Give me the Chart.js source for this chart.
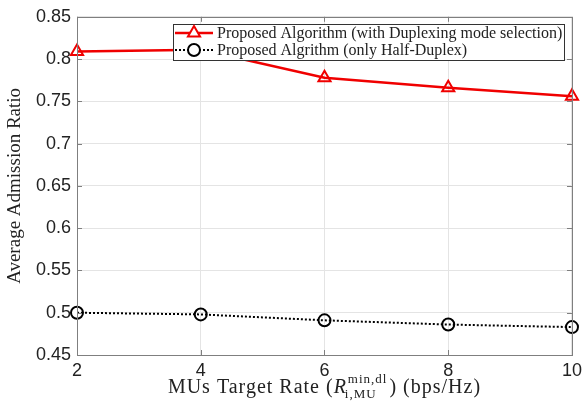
<!DOCTYPE html>
<html>
<head>
<meta charset="utf-8">
<script src="https://cdn.jsdelivr.net/npm/chart.js@4/dist/chart.umd.min.js"></script>
<style>
  html, body { margin: 0; padding: 0; background: #fff; }
  #wrap { width: 587px; height: 401px; }
</style>
</head>
<body>
<div id="wrap"><canvas id="c" width="587" height="401"></canvas></div>
<script>
// Target rate of the mobile users (bps/Hz)
const targetRates = [2, 4, 6, 8, 10];
// Average admission ratio for each scheme
const withDuplexSelection = [0.809, 0.811, 0.778, 0.766, 0.756];
const halfDuplexOnly = [0.500, 0.498, 0.491, 0.486, 0.483];
const seriesLabels = [
  'Proposed Algorithm (with Duplexing mode selection)',
  'Proposed Algrithm (only Half-Duplex)'
];
const yTicks = [0.45, 0.5, 0.55, 0.6, 0.65, 0.7, 0.75, 0.8, 0.85];

const RED = '#f00000';
const AXIS = '#7f7f7f';
const GRID = '#e4e4e4';
const SERIF = '"Liberation Serif", "DejaVu Serif", serif';
const SANS = '"Liberation Sans", Arial, sans-serif';

// Inward tick marks on all four sides of the axes box
const innerTicks = {
  id: 'innerTicks',
  afterDatasetsDraw(chart) {
    const { ctx, chartArea: a, scales: { x, y } } = chart;
    const len = 5;
    ctx.save();
    ctx.strokeStyle = AXIS;
    ctx.lineWidth = 1;
    ctx.beginPath();
    targetRates.forEach(v => {
      const px = Math.round(x.getPixelForValue(v)) + 0.5;
      ctx.moveTo(px, a.bottom); ctx.lineTo(px, a.bottom - len);
      ctx.moveTo(px, a.top); ctx.lineTo(px, a.top + len);
    });
    yTicks.forEach(v => {
      const py = Math.round(y.getPixelForValue(v)) + 0.5;
      ctx.moveTo(a.left, py); ctx.lineTo(a.left + len, py);
      ctx.moveTo(a.right, py); ctx.lineTo(a.right - len, py);
    });
    ctx.stroke();
    ctx.strokeRect(Math.round(a.left) + 0.5, Math.round(a.top) + 0.5,
                   Math.round(a.right - a.left), Math.round(a.bottom - a.top));
    ctx.restore();
  }
};

// Boxed legend placed inside the plot, drawn over the data lines
const boxedLegend = {
  id: 'boxedLegend',
  afterDatasetsDraw(chart) {
    const { ctx } = chart;
    const box = { x: 173.5, y: 24.5, w: 391, h: 36 };
    ctx.save();
    ctx.fillStyle = '#fff';
    ctx.fillRect(box.x, box.y, box.w, box.h);
    ctx.strokeStyle = '#333';
    ctx.lineWidth = 1;
    ctx.strokeRect(box.x, box.y, box.w, box.h);
    const rows = [33, 50];
    chart.data.datasets.forEach((ds, i) => {
      const cy = rows[i];
      ctx.strokeStyle = ds.borderColor;
      ctx.lineWidth = ds.borderWidth;
      ctx.setLineDash(ds.borderDash || []);
      ctx.beginPath();
      ctx.moveTo(175, cy); ctx.lineTo(213, cy);
      ctx.stroke();
      ctx.setLineDash([]);
      ctx.fillStyle = '#fff';
      ctx.strokeStyle = ds.pointBorderColor;
      ctx.lineWidth = ds.pointBorderWidth;
      Chart.helpers.drawPoint(ctx, {
        pointStyle: ds.pointStyle, radius: ds.pointRadius, rotation: 0,
        borderWidth: ds.pointBorderWidth
      }, 194, cy);
      ctx.fillStyle = '#222';
      ctx.font = '16px ' + SERIF;
      ctx.textBaseline = 'middle';
      ctx.fillText(ds.label, 217, cy + 1);
    });
    ctx.restore();
  }
};

// X axis title with the rate symbol set as R with super- and subscript
const mathXTitle = {
  id: 'mathXTitle',
  afterDraw(chart) {
    const { ctx, chartArea: a } = chart;
    const size = 20, small = 13;
    const parts = [
      { t: 'MUs Target Rate (', f: size + 'px ' + SERIF },
      { t: 'R', f: 'italic ' + size + 'px ' + SERIF },
      { t: 'min,dl', f: small + 'px ' + SERIF },
      { t: 'i,MU', f: small + 'px ' + SERIF },
      { t: ') (bps/Hz)', f: size + 'px ' + SERIF }
    ];
    ctx.save();
    ctx.letterSpacing = '1px';
    const widths = parts.map(p => { ctx.font = p.f; return ctx.measureText(p.t).width; });
    const total = widths[0] + widths[1] + Math.max(widths[2], widths[3]) + 3 + widths[4];
    let x = (a.left + a.right) / 2 - total / 2;
    const base = 393;
    ctx.fillStyle = '#222';
    ctx.textBaseline = 'alphabetic';
    ctx.font = parts[0].f; ctx.fillText(parts[0].t, x, base); x += widths[0];
    ctx.font = parts[1].f; ctx.fillText(parts[1].t, x, base); x += widths[1];
    ctx.font = parts[2].f; ctx.fillText(parts[2].t, x + 1, base - 10);
    ctx.font = parts[3].f; ctx.fillText(parts[3].t, x - 2, base + 5);
    x += Math.max(widths[2], widths[3]) + 3;
    ctx.font = parts[4].f; ctx.fillText(parts[4].t, x, base);
    ctx.restore();
  }
};

new Chart(document.getElementById('c'), {
  type: 'line',
  data: {
    labels: targetRates,
    datasets: [
      {
        label: seriesLabels[0],
        data: targetRates.map((r, i) => ({ x: r, y: withDuplexSelection[i] })),
        borderColor: RED,
        borderWidth: 2.5,
        pointStyle: 'triangle',
        pointRadius: 7,
        pointBorderWidth: 2,
        pointBackgroundColor: 'rgba(255,255,255,0)',
        pointBorderColor: RED,
        fill: false,
        tension: 0
      },
      {
        label: seriesLabels[1],
        data: targetRates.map((r, i) => ({ x: r, y: halfDuplexOnly[i] })),
        borderColor: '#000',
        borderWidth: 2,
        borderDash: [2, 2],
        pointStyle: 'circle',
        pointRadius: 6,
        pointBorderWidth: 2,
        pointBackgroundColor: 'rgba(255,255,255,0)',
        pointBorderColor: '#000',
        fill: false,
        tension: 0
      }
    ]
  },
  options: {
    responsive: false,
    animation: false,
    events: [],
    clip: false,
    layout: { padding: { top: 14, right: 13, left: 0, bottom: 0 } },
    plugins: { legend: { display: false }, tooltip: { enabled: false } },
    scales: {
      x: {
        type: 'linear',
        min: 2, max: 10,
        afterBuildTicks(scale) { scale.ticks = targetRates.map(v => ({ value: v })); },
        afterFit(scale) { scale.height = 46; },
        grid: { color: GRID, drawTicks: false },
        border: { display: false },
        ticks: {
          color: '#222', padding: 5,
          font: { family: SANS, size: 18 },
          maxRotation: 0
        }
      },
      y: {
        min: 0.45, max: 0.85,
        afterBuildTicks(scale) { scale.ticks = yTicks.map(v => ({ value: v })); },
        afterFit(scale) { scale.width = 77; },
        grid: { color: GRID, drawTicks: false },
        border: { display: false },
        ticks: {
          color: '#222', padding: 6,
          font: { family: SANS, size: 18 },
          callback: v => String(+v.toFixed(2))
        },
        title: {
          display: true,
          text: 'Average Admission Ratio',
          color: '#222',
          font: { family: SERIF, size: 19 },
          padding: { top: 4, bottom: 0 }
        }
      }
    }
  },
  plugins: [innerTicks, boxedLegend, mathXTitle]
});
</script>
</body>
</html>
